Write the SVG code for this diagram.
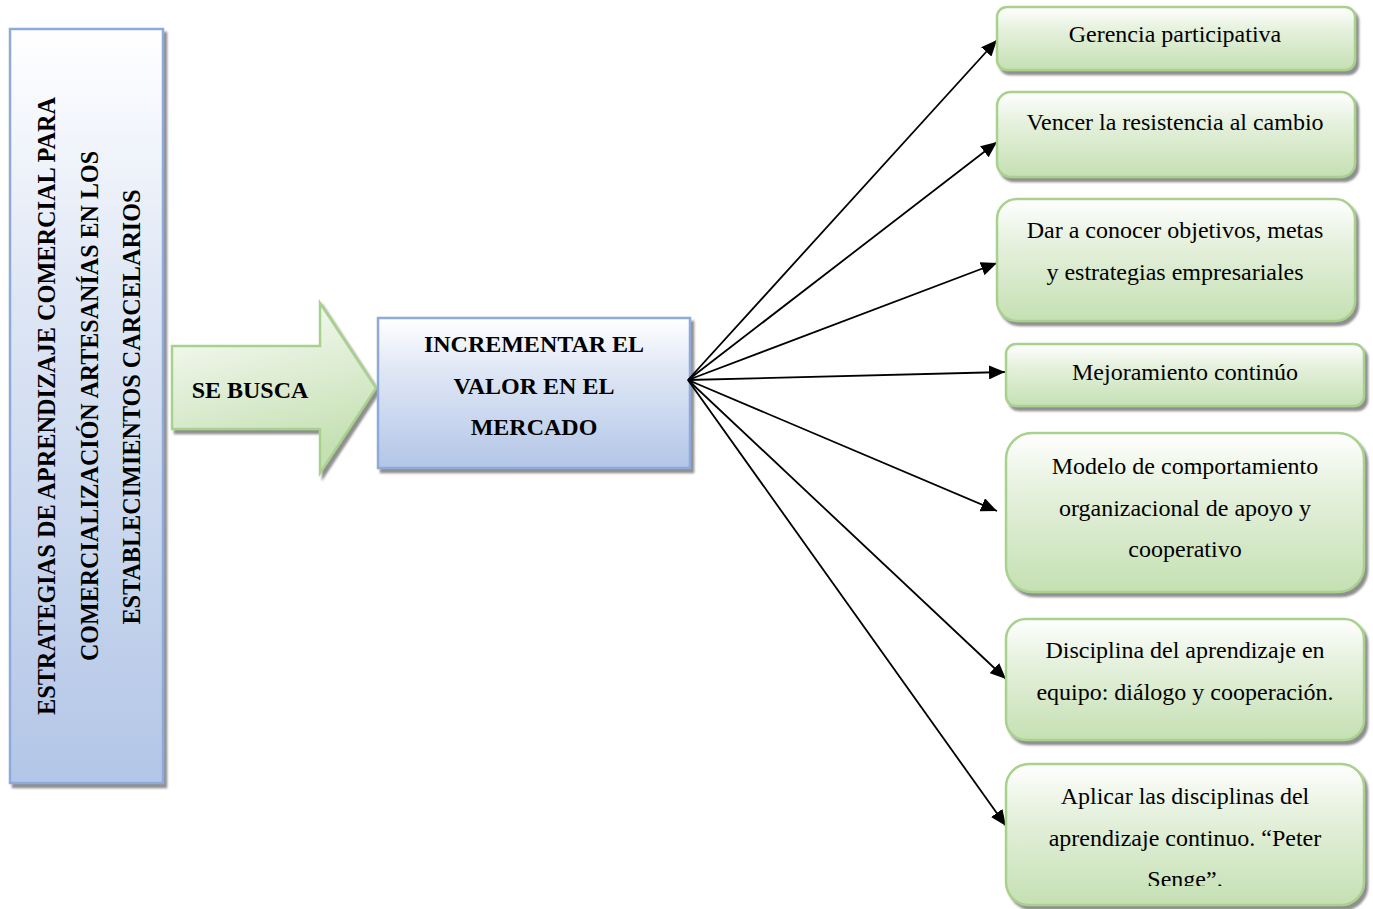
<svg xmlns="http://www.w3.org/2000/svg" width="1373" height="909" viewBox="0 0 1373 909">
<defs>
<linearGradient id="gBlue" x1="0" y1="0" x2="0" y2="1">
<stop offset="0" stop-color="#ffffff"/>
<stop offset="0.35" stop-color="#dfe7f5"/>
<stop offset="1" stop-color="#b3c6e7"/>
</linearGradient>
<linearGradient id="gGreen" x1="0" y1="0" x2="0" y2="1">
<stop offset="0" stop-color="#ffffff"/>
<stop offset="0.35" stop-color="#e6f1de"/>
<stop offset="1" stop-color="#c5e0b3"/>
</linearGradient>
<linearGradient id="gArrow" x1="0" y1="0" x2="0.3" y2="1">
<stop offset="0" stop-color="#ffffff"/>
<stop offset="0.4" stop-color="#e6f1de"/>
<stop offset="1" stop-color="#c5e0b3"/>
</linearGradient>
<filter id="sh" x="-10%" y="-10%" width="130%" height="130%">
<feDropShadow dx="3" dy="4" stdDeviation="0.8" flood-color="#7a7a7a" flood-opacity="0.85"/>
</filter>
<marker id="ah" viewBox="0 0 16 14" refX="16" refY="7" markerWidth="16" markerHeight="14" markerUnits="userSpaceOnUse" orient="auto">
<path d="M0,0 L16,7 L0,14 z" fill="#000"/>
</marker>
<clipPath id="clip7"><rect x="1000" y="760" width="370" height="126"/></clipPath>
</defs>
<style>
.blue{fill:url(#gBlue);stroke:#8eaadb;stroke-width:2.5}
.green{fill:url(#gGreen);stroke:#a9d18e;stroke-width:2.5}
.t{font-family:"Liberation Serif","Times New Roman",serif;font-size:24px;fill:#000;text-anchor:middle}
.b{font-weight:bold}
.lbl{font-size:25px}
.conn line{stroke:#000;stroke-width:1.8;marker-end:url(#ah)}
</style>
<rect width="1373" height="909" fill="#fff"/>

<g id="title">
<rect class="blue" x="10" y="29" width="153" height="754" filter="url(#sh)"/>
<text class="t b lbl" transform="translate(55,406) rotate(-90)" textLength="618" lengthAdjust="spacingAndGlyphs">ESTRATEGIAS DE APRENDIZAJE COMERCIAL PARA</text>
<text class="t b lbl" transform="translate(98,406) rotate(-90)" textLength="510" lengthAdjust="spacingAndGlyphs">COMERCIALIZACIÓN ARTESANÍAS EN LOS</text>
<text class="t b lbl" transform="translate(140,407) rotate(-90)" textLength="435" lengthAdjust="spacingAndGlyphs">ESTABLECIMIENTOS CARCELARIOS</text>
</g>

<g id="se-busca">
<path d="M172,346 L320,346 L320,303 L376,388 L320,473 L320,429 L172,429 Z" fill="url(#gArrow)" stroke="#a9d18e" stroke-width="2.5" filter="url(#sh)"/>
<text class="t b" x="250" y="398">SE BUSCA</text>
</g>

<g id="incrementar">
<rect class="blue" x="378" y="318" width="312" height="150" filter="url(#sh)"/>
<text class="t b" x="534" y="352">INCREMENTAR EL</text>
<text class="t b" x="534" y="394">VALOR EN EL</text>
<text class="t b" x="534" y="435">MERCADO</text>
</g>

<g class="conn" id="connectors">
<line x1="688" y1="380" x2="997" y2="40"/>
<line x1="688" y1="380" x2="997" y2="142"/>
<line x1="688" y1="380" x2="997" y2="263"/>
<line x1="688" y1="380" x2="1005" y2="372"/>
<line x1="688" y1="380" x2="997" y2="511"/>
<line x1="688" y1="380" x2="1006" y2="679"/>
<line x1="688" y1="380" x2="1006" y2="826"/>
</g>

<g id="n1">
<rect class="green" x="997" y="7" width="358" height="63" rx="10" filter="url(#sh)"/>
<text class="t" x="1175" y="42">Gerencia participativa</text>
</g>
<g id="n2">
<rect class="green" x="997" y="92" width="358" height="85" rx="14" filter="url(#sh)"/>
<text class="t" x="1175" y="130">Vencer la resistencia al cambio</text>
</g>
<g id="n3">
<rect class="green" x="997" y="199" width="358" height="122" rx="20" filter="url(#sh)"/>
<text class="t" x="1175" y="238">Dar a conocer objetivos, metas</text>
<text class="t" x="1175" y="280">y estrategias empresariales</text>
</g>
<g id="n4">
<rect class="green" x="1006" y="344" width="358" height="62" rx="10" filter="url(#sh)"/>
<text class="t" x="1185" y="380">Mejoramiento continúo</text>
</g>
<g id="n5">
<rect class="green" x="1006" y="433" width="358" height="159" rx="26" filter="url(#sh)"/>
<text class="t" x="1185" y="474">Modelo de comportamiento</text>
<text class="t" x="1185" y="516">organizacional de apoyo y</text>
<text class="t" x="1185" y="557">cooperativo</text>
</g>
<g id="n6">
<rect class="green" x="1006" y="619" width="358" height="121" rx="20" filter="url(#sh)"/>
<text class="t" x="1185" y="658">Disciplina del aprendizaje en</text>
<text class="t" x="1185" y="700">equipo: diálogo y cooperación.</text>
</g>
<g id="n7">
<rect class="green" x="1006" y="764" width="358" height="141" rx="23" filter="url(#sh)"/>
<text class="t" x="1185" y="804">Aplicar las disciplinas del</text>
<text class="t" x="1185" y="846">aprendizaje continuo. “Peter</text>
<text class="t" x="1185" y="887" clip-path="url(#clip7)">Senge”.</text>
</g>
</svg>
